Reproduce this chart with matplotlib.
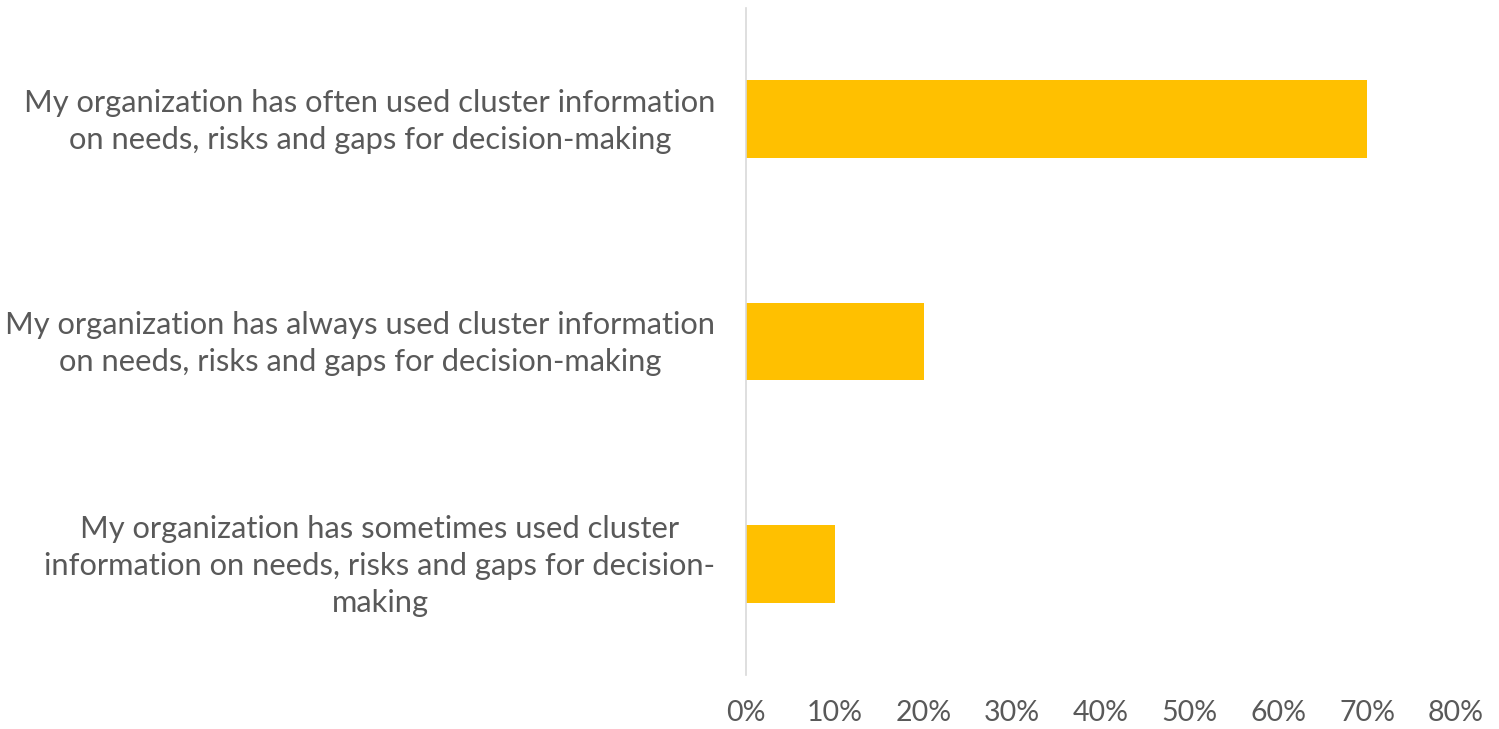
import matplotlib
matplotlib.use("Agg")
import matplotlib.pyplot as plt
import matplotlib.transforms as mtransforms
from matplotlib.ticker import FuncFormatter, MultipleLocator

categories = [
    "My organization has often used cluster information\non needs, risks and gaps for decision-making",
    "My organization has always used cluster information\non needs, risks and gaps for decision-making",
    "My organization has sometimes used cluster\ninformation on needs, risks and gaps for decision-\nmaking",
]
values = [0.70, 0.20, 0.10]

plt.rcParams['font.family'] = ['Lato', 'DejaVu Sans']
text_color = '#595959'

fig = plt.figure(figsize=(14.99, 7.29), dpi=100)
ax = fig.add_axes([0.4977, 0.074, 0.4736, 0.915])

ypos = list(range(len(categories)))
ax.barh(ypos, values, height=0.35, color='#FFC000', zorder=2)
ax.set_ylim(2.5, -0.5)
ax.set_xlim(0, 0.8)
ax.xaxis.set_major_locator(MultipleLocator(0.1))
ax.xaxis.set_major_formatter(FuncFormatter(lambda v, p: f"{v*100:.0f}%"))
ax.set_yticks(ypos)
ax.set_yticklabels(categories, multialignment='center', linespacing=1.4)

for s in ['top', 'right', 'bottom']:
    ax.spines[s].set_visible(False)
ax.spines['left'].set_color('#D9D9D9')
ax.spines['left'].set_linewidth(1.2)
ax.tick_params(axis='both', length=0, colors=text_color)
ax.tick_params(axis='y', pad=22, labelsize=22.2)
ax.tick_params(axis='x', pad=18, labelsize=20.5)

offset = mtransforms.ScaledTranslation(0, 5 / 100, fig.dpi_scale_trans)
for lbl in ax.get_yticklabels():
    lbl.set_transform(lbl.get_transform() + offset)

fig.savefig('out.png', dpi=100)
